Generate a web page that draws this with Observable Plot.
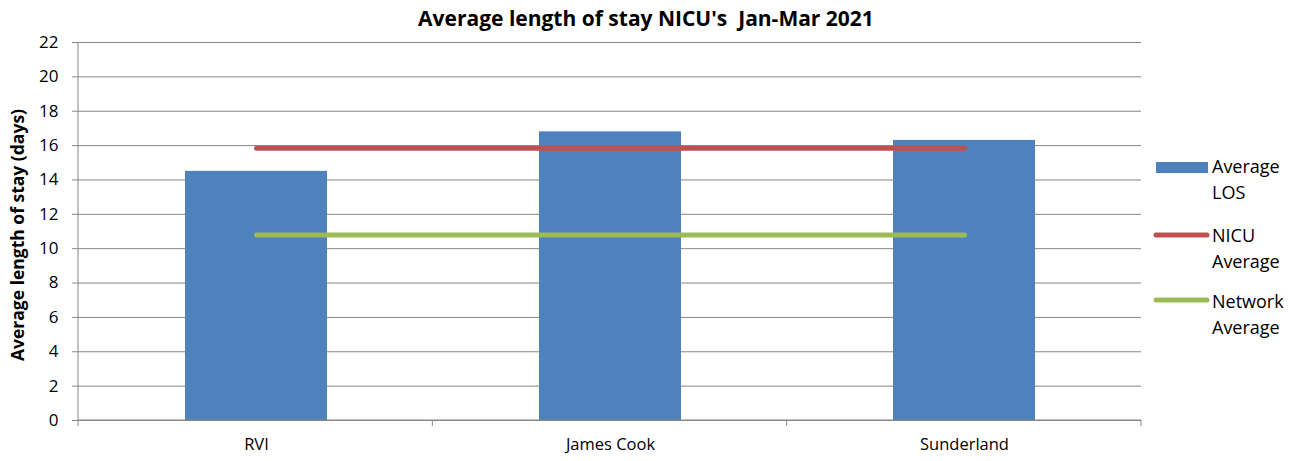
<!DOCTYPE html>
<html>
<head>
<meta charset="utf-8">
<script src="https://cdn.jsdelivr.net/npm/d3@7"></script>
<script src="https://cdn.jsdelivr.net/npm/@observablehq/plot@0.6"></script>
<style>
  body { margin: 0; background: #fff; }
  #chart svg { font-family: "Open Sans", sans-serif; }
</style>
</head>
<body>
<div id="chart"></div>
<script>
const units = ["RVI", "James Cook", "Sunderland"];
const avgLOS = [14.5, 16.8, 16.3];
const nicuAvg = [15.85, 15.85, 15.85];
const networkAvg = [10.8, 10.8, 10.8];
const yTicks = [0, 2, 4, 6, 8, 10, 12, 14, 16, 18, 20, 22];
const titleText = "Average length of stay NICU's  Jan-Mar 2021";
const yLabel = "Average length of stay (days)";
const legendItems = [
  {type: "bar", color: "#4F81BD", lines: ["Average", "LOS"]},
  {type: "line", color: "#C0504D", lines: ["NICU", "Average"]},
  {type: "line", color: "#9BBB59", lines: ["Network", "Average"]}
];

const rows = units.map((u, i) => ({unit: u, los: avgLOS[i], nicu: nicuAvg[i], net: networkAvg[i]}));
const grid = "#868686";
const font = "'Open Sans', sans-serif";

const chart = Plot.plot({
  width: 1305,
  height: 461,
  marginTop: 42,
  marginBottom: 41,
  marginLeft: 78,
  marginRight: 164,
  style: {fontSize: "17px", fontFamily: font, color: "#000", background: "#fff"},
  x: {domain: units, paddingInner: 0.6, paddingOuter: 0.3, label: null},
  y: {domain: [0, 22], label: null},
  marks: [
    Plot.gridY(yTicks, {stroke: grid, strokeOpacity: 1, strokeWidth: 1}),
    Plot.axisY(yTicks, {tickSize: 6, tickPadding: 14, stroke: grid, label: null, fill: "#000", fontSize: 17}),
    Plot.axisX({tickSize: 0, tickPadding: 18, label: null, fill: "#000", fontSize: 16.5}),
    Plot.barY(rows, {x: "unit", y: "los", fill: "#4F81BD"}),
    Plot.line(rows, {x: "unit", y: "nicu", stroke: "#C0504D", strokeWidth: 5, strokeLinecap: "round"}),
    Plot.line(rows, {x: "unit", y: "net", stroke: "#9BBB59", strokeWidth: 5, strokeLinecap: "round"})
  ]
});

const svg = d3.select(chart);
const xs = chart.scale("x");
const ys = chart.scale("y");
const x0 = xs.range[0], x1 = xs.range[1];
const yb = ys.apply(0), yt = ys.apply(22);
// axis lines
svg.append("line").attr("x1", x0).attr("x2", x0).attr("y1", yt).attr("y2", yb).attr("stroke", grid);
svg.append("line").attr("x1", x0).attr("x2", x1).attr("y1", yb).attr("y2", yb).attr("stroke", grid);
// category boundary ticks
const step = (x1 - x0) / units.length;
for (let i = 0; i <= units.length; i++) {
  const xx = x0 + i * step;
  svg.append("line").attr("x1", xx).attr("x2", xx).attr("y1", yb).attr("y2", yb + 6).attr("stroke", grid);
}
// title
svg.append("text").attr("x", 646).attr("y", 26).attr("text-anchor", "middle")
  .attr("font-weight", "bold").attr("font-size", 21).text(titleText);
// y label
svg.append("text").attr("transform", `translate(24,${(yt + yb) / 2 + 4}) rotate(-90)`)
  .attr("text-anchor", "middle").attr("font-weight", "bold").attr("font-size", 17.5).text(yLabel);
// legend
const lg = svg.append("g").attr("text-anchor", "start");
const ly = [167, 235, 300];
const baseOff = [6, 7, 8];
legendItems.forEach((it, i) => {
  const y = ly[i];
  if (it.type === "bar") {
    lg.append("rect").attr("x", 1156).attr("y", y - 5).attr("width", 52).attr("height", 11).attr("fill", it.color);
  } else {
    lg.append("line").attr("x1", 1156).attr("x2", 1207).attr("y1", y).attr("y2", y)
      .attr("stroke", it.color).attr("stroke-width", 5).attr("stroke-linecap", "round");
  }
  it.lines.forEach((t, j) => {
    lg.append("text").attr("x", 1212).attr("y", y + baseOff[i] + j * 26).attr("font-size", 18).text(t);
  });
});

document.getElementById("chart").appendChild(chart);
</script>
</body>
</html>
